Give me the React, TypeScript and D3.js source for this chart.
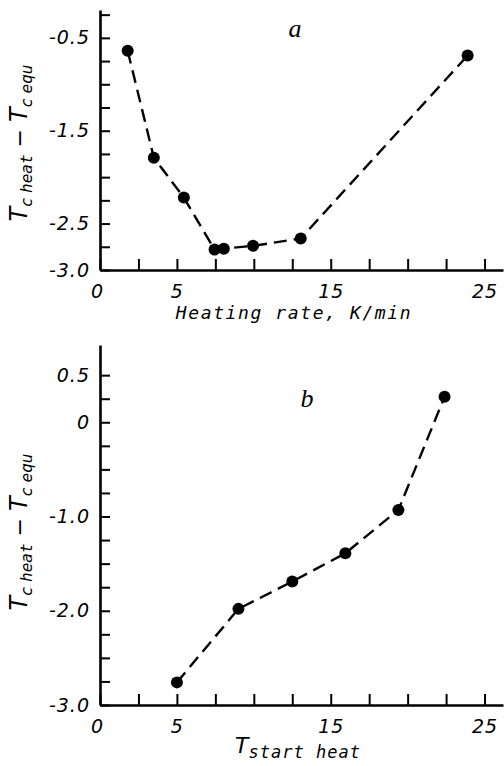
import React, { useEffect, useRef } from "react";
import * as d3 from "d3";

// panel a: heating rate (K/min) vs Tc heat - Tc equ
const rateX = [1.8, 3.5, 5.45, 7.45, 8.05, 9.95, 13.05, 23.9];
const rateY = [-0.64, -1.79, -2.22, -2.78, -2.77, -2.74, -2.66, -0.69];

// panel b: T start heat vs Tc heat - Tc equ
const startX = [5.0, 9.0, 12.5, 15.95, 19.4, 22.4];
const startY = [-2.76, -1.98, -1.69, -1.39, -0.93, 0.27];

const xTickLabels = [0, 5, 15, 25];
const yTopLabels = [-0.5, -1.5, -2.5, -3.0];
const yBottomLabels = [0.5, 0, -1.0, -2.0, -3.0];

const W = 504;
const H = 766;

function drawPanel(svg, opts) {
  const { xs, ys, yDomain, yRange, yTicks, yLabels, panelLabel, panelPos, labelY } = opts;

  const x = d3.scaleLinear().domain([0, 26.2]).range([100, 503]);
  const y = d3.scaleLinear().domain(yDomain).range(yRange);
  const y0 = yRange[0];

  const fmtY = (v) => {
    const hit = yLabels.find((l) => Math.abs(l - v) < 1e-6);
    if (hit === undefined) return "";
    if (hit === 0) return "0";
    return hit.toFixed(1);
  };

  const g = svg.append("g");

  // x axis, ticks pointing up into the plot
  const xAxis = d3.axisBottom(x)
    .tickValues(d3.range(0, 25.1, 2.5))
    .tickSizeInner(-11)
    .tickSizeOuter(0)
    .tickPadding(18)
    .tickFormat((v) => (xTickLabels.includes(v) ? String(v) : ""));
  const gx = g.append("g").attr("transform", `translate(0,${y0})`).call(xAxis);

  // y axis, ticks pointing right
  const yAxis = d3.axisLeft(y)
    .tickValues(d3.range(yTicks[0], yTicks[1] + 0.01, 0.25))
    .tickSizeInner(-10)
    .tickSizeOuter(0)
    .tickPadding(10)
    .tickFormat(fmtY);
  const gy = g.append("g").attr("transform", `translate(100,0)`).call(yAxis);

  [gx, gy].forEach((a) => {
    a.select(".domain").attr("stroke", "#000").attr("stroke-width", 2.6);
    a.selectAll(".tick line").attr("stroke", "#000").attr("stroke-width", 2);
    a.selectAll(".tick text")
      .attr("font-family", "DejaVu Sans")
      .attr("font-style", "italic")
      .attr("font-size", 19)
      .attr("letter-spacing", 1)
      .attr("fill", "#000");
  });
  gx.selectAll(".tick text").attr("dy", "0.5em");
  gx.selectAll(".tick text").filter((v) => v === 0).attr("dx", -3);

  // dashed connecting line
  const pts = xs.map((v, i) => [v, ys[i]]);
  const line = d3.line().x((d) => x(d[0])).y((d) => y(d[1]));
  g.append("path")
    .datum(pts)
    .attr("d", line)
    .attr("fill", "none")
    .attr("stroke", "#000")
    .attr("stroke-width", 2.4)
    .attr("stroke-dasharray", "13,7");

  g.selectAll("circle.pt")
    .data(pts)
    .join("circle")
    .attr("class", "pt")
    .attr("cx", (d) => x(d[0]))
    .attr("cy", (d) => y(d[1]))
    .attr("r", 6)
    .attr("fill", "#000");

  // panel letter
  g.append("text")
    .attr("x", panelPos[0])
    .attr("y", panelPos[1])
    .attr("font-family", "Liberation Serif")
    .attr("font-style", "italic")
    .attr("font-size", 26)
    .attr("text-anchor", "middle")
    .text(panelLabel);

  // y axis title, rotated
  const yt = g.append("text")
    .attr("transform", `translate(27,${labelY}) rotate(-90)`)
    .attr("text-anchor", "middle")
    .attr("font-family", "DejaVu Sans")
    .attr("font-style", "italic")
    .attr("fill", "#000");
  yt.append("tspan").attr("font-size", 24).text("T");
  yt.append("tspan").attr("font-size", 16).attr("dy", 5).text("c ");
  yt.append("tspan").attr("font-size", 16).attr("font-family", "DejaVu Sans Mono").text("heat");
  yt.append("tspan").attr("font-size", 22).attr("dy", -5).text(" \u2212 ");
  yt.append("tspan").attr("font-size", 24).text("T");
  yt.append("tspan").attr("font-size", 16).attr("dy", 5).text("c ");
  yt.append("tspan").attr("font-size", 16).attr("font-family", "DejaVu Sans Mono").text("equ");

  return g;
}

export default function App() {
  const ref = useRef(null);

  useEffect(() => {
    const svg = d3.select(ref.current);
    svg.selectAll("*").remove();

    const top = drawPanel(svg, {
      xs: rateX,
      ys: rateY,
      yDomain: [-3, -0.2],
      yRange: [270, 10],
      yTicks: [-3, -0.25],
      yLabels: yTopLabels,
      panelLabel: "a",
      panelPos: [295, 37],
      labelY: 143,
    });
    top.append("text")
      .attr("x", 294)
      .attr("y", 319)
      .attr("text-anchor", "middle")
      .attr("font-family", "DejaVu Sans Mono")
      .attr("font-style", "italic")
      .attr("font-size", 18)
      .attr("letter-spacing", 1.6)
      .text("Heating rate, K/min");

    const bottom = drawPanel(svg, {
      xs: startX,
      ys: startY,
      yDomain: [-3, 0.82],
      yRange: [705, 345],
      yTicks: [-3, 0.5],
      yLabels: yBottomLabels,
      panelLabel: "b",
      panelPos: [307, 407],
      labelY: 532,
    });
    const xt = bottom.append("text")
      .attr("x", 298)
      .attr("y", 753)
      .attr("text-anchor", "middle")
      .attr("fill", "#000");
    xt.append("tspan")
      .attr("font-family", "DejaVu Sans")
      .attr("font-style", "italic")
      .attr("font-size", 22)
      .text("T");
    xt.append("tspan")
      .attr("font-family", "DejaVu Sans Mono")
      .attr("font-style", "italic")
      .attr("font-size", 17)
      .attr("dy", 5)
      .attr("letter-spacing", 1)
      .text("start heat");
  }, []);

  return (
    <svg
      ref={ref}
      width={W}
      height={H}
      style={{ position: "absolute", left: 0, top: 0, background: "#fff" }}
    />
  );
}
